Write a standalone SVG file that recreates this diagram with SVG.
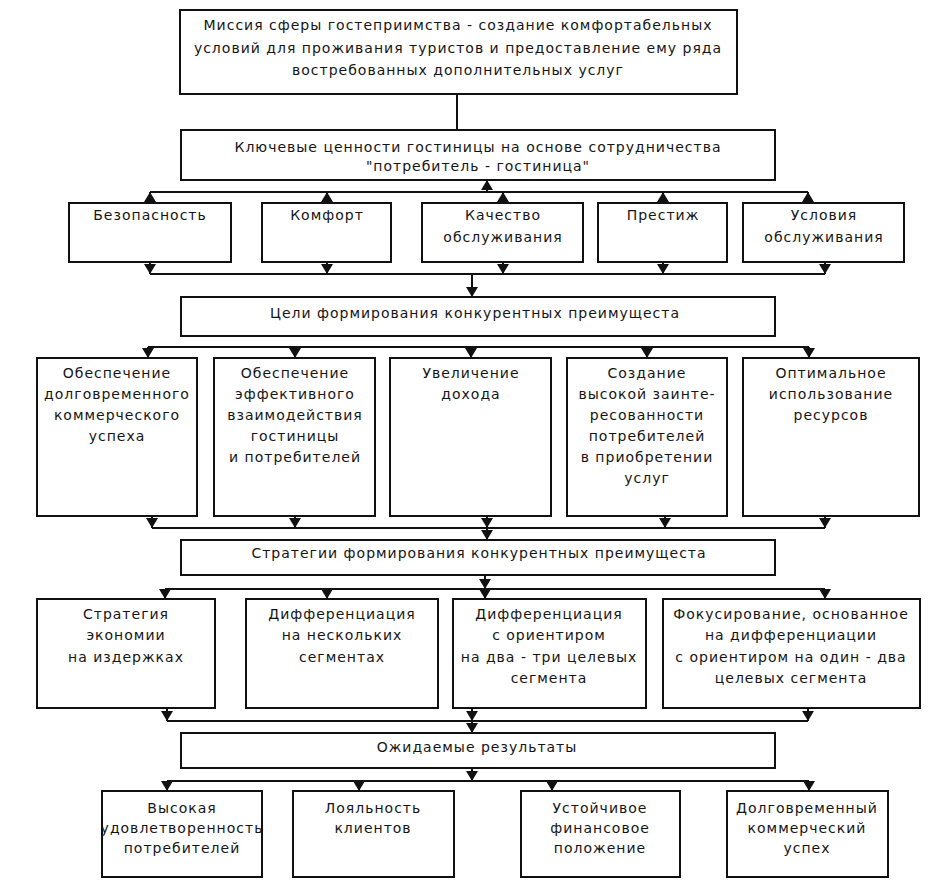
<svg xmlns="http://www.w3.org/2000/svg" width="950" height="886" viewBox="0 0 950 886">
<style>
.box{fill:#fff;stroke:#111;stroke-width:2}
.t{font-family:"DejaVu Sans","Liberation Sans",sans-serif;font-size:14px;letter-spacing:1px;fill:#151515;text-anchor:middle}
.c{fill:none;stroke:#111;stroke-width:2}
.a{fill:none;stroke:#111;stroke-width:2;marker-end:url(#ah)}
</style>
<defs>
<marker id="ah" viewBox="0 0 10 12" refX="10" refY="6" markerWidth="11" markerHeight="12" markerUnits="userSpaceOnUse" orient="auto">
<path d="M0,0 L10,6 L0,12 z" fill="#111"/>
</marker>
</defs>
<rect width="950" height="886" fill="#fff"/>
<g id="connectors">
<path class="c" d="M457,94 V130"/>
<path class="c" d="M150,192 H808"/>
<path class="a" d="M150,203 V192"/><path class="a" d="M327,203 V192"/><path class="a" d="M503,203 V192"/><path class="a" d="M663,203 V192"/><path class="a" d="M808,203 V192"/>
<path class="a" d="M487,192 V180"/>
<path class="c" d="M150,274 H825"/>
<path class="a" d="M150,262 V274"/><path class="a" d="M327,262 V274"/><path class="a" d="M503,262 V274"/><path class="a" d="M663,262 V274"/><path class="a" d="M825,262 V274"/>
<path class="a" d="M472,274 V297"/>
<path class="c" d="M148,347 H809"/>
<path class="a" d="M148,347 V358"/><path class="a" d="M295,347 V358"/><path class="a" d="M471,347 V358"/><path class="a" d="M647,347 V358"/><path class="a" d="M809,347 V358"/>
<path class="c" d="M152,528 H825"/>
<path class="a" d="M152,516 V528"/><path class="a" d="M295,516 V528"/><path class="a" d="M487,516 V528"/><path class="a" d="M665,516 V528"/><path class="a" d="M825,516 V528"/>
<path class="a" d="M487,528 V540"/>
<path class="c" d="M165,589 H825"/>
<path class="a" d="M485,575 V589"/>
<path class="a" d="M165,589 V599"/><path class="a" d="M327,589 V599"/><path class="a" d="M485,589 V599"/><path class="a" d="M825,589 V599"/>
<path class="c" d="M167,721 H808"/>
<path class="a" d="M167,708 V721"/><path class="a" d="M472,708 V721"/><path class="a" d="M808,708 V721"/>
<path class="a" d="M472,721 V733"/>
<path class="a" d="M472,768 V781"/>
<path class="c" d="M167,781 H809"/>
<path class="a" d="M167,781 V791"/><path class="a" d="M359,781 V791"/><path class="a" d="M552,781 V791"/><path class="a" d="M809,781 V791"/>
</g>
<g id="mission"><rect class="box" x="180" y="10" width="557" height="84"/>
<text class="t" x="458" y="30">Миссия сферы гостеприимства - создание комфортабельных</text>
<text class="t" x="458" y="53">условий для проживания туристов и предоставление ему ряда</text>
<text class="t" x="458" y="75">востребованных дополнительных услуг</text></g>
<g id="values"><rect class="box" x="181" y="130" width="594" height="50"/>
<text class="t" x="478" y="152">Ключевые ценности гостиницы на основе сотрудничества</text>
<text class="t" x="478" y="171">"потребитель - гостиница"</text></g>
<g id="v1"><rect class="box" x="69" y="203" width="162" height="59"/><text class="t" x="150" y="220">Безопасность</text></g>
<g id="v2"><rect class="box" x="262" y="203" width="129" height="59"/><text class="t" x="327" y="220">Комфорт</text></g>
<g id="v3"><rect class="box" x="422" y="203" width="161" height="59"/><text class="t" x="503" y="220">Качество</text><text class="t" x="503" y="242">обслуживания</text></g>
<g id="v4"><rect class="box" x="598" y="203" width="129" height="59"/><text class="t" x="663" y="220">Престиж</text></g>
<g id="v5"><rect class="box" x="743" y="203" width="161" height="59"/><text class="t" x="824" y="220">Условия</text><text class="t" x="824" y="242">обслуживания</text></g>
<g id="goals"><rect class="box" x="181" y="297" width="594" height="39"/><text class="t" x="475" y="318">Цели формирования конкурентных преимущеста</text></g>
<g id="g1"><rect class="box" x="37" y="358" width="160" height="158"/>
<text class="t" x="117" y="378">Обеспечение</text><text class="t" x="117" y="399">долговременного</text><text class="t" x="117" y="420">коммерческого</text><text class="t" x="117" y="441">успеха</text></g>
<g id="g2"><rect class="box" x="214" y="358" width="161" height="158"/>
<text class="t" x="295" y="378">Обеспечение</text><text class="t" x="295" y="399">эффективного</text><text class="t" x="295" y="420">взаимодействия</text><text class="t" x="295" y="441">гостиницы</text><text class="t" x="295" y="462">и потребителей</text></g>
<g id="g3"><rect class="box" x="390" y="358" width="161" height="158"/>
<text class="t" x="471" y="378">Увеличение</text><text class="t" x="471" y="399">дохода</text></g>
<g id="g4"><rect class="box" x="567" y="358" width="160" height="158"/>
<text class="t" x="647" y="378">Создание</text><text class="t" x="647" y="399">высокой заинте-</text><text class="t" x="647" y="420">ресованности</text><text class="t" x="647" y="441">потребителей</text><text class="t" x="647" y="462">в приобретении</text><text class="t" x="647" y="483">услуг</text></g>
<g id="g5"><rect class="box" x="743" y="358" width="176" height="158"/>
<text class="t" x="831" y="378">Оптимальное</text><text class="t" x="831" y="399">использование</text><text class="t" x="831" y="420">ресурсов</text></g>
<g id="strategies"><rect class="box" x="181" y="540" width="594" height="35"/><text class="t" x="479" y="558">Стратегии формирования конкурентных преимущеста</text></g>
<g id="s1"><rect class="box" x="37" y="599" width="178" height="109"/>
<text class="t" x="126" y="619">Стратегия</text><text class="t" x="126" y="640">экономии</text><text class="t" x="126" y="662">на издержках</text></g>
<g id="s2"><rect class="box" x="246" y="599" width="192" height="109"/>
<text class="t" x="342" y="619">Дифференциация</text><text class="t" x="342" y="640">на нескольких</text><text class="t" x="342" y="662">сегментах</text></g>
<g id="s3"><rect class="box" x="453" y="599" width="193" height="109"/>
<text class="t" x="549" y="619">Дифференциация</text><text class="t" x="549" y="640">с ориентиром</text><text class="t" x="549" y="662">на два - три целевых</text><text class="t" x="549" y="683">сегмента</text></g>
<g id="s4"><rect class="box" x="663" y="599" width="257" height="109"/>
<text class="t" x="791" y="619">Фокусирование, основанное</text><text class="t" x="791" y="640">на дифференциации</text><text class="t" x="791" y="662">с ориентиром на один - два</text><text class="t" x="791" y="683">целевых сегмента</text></g>
<g id="results"><rect class="box" x="181" y="733" width="594" height="35"/><text class="t" x="477" y="752">Ожидаемые результаты</text></g>
<g id="r1"><rect class="box" x="102" y="791" width="160" height="86"/>
<text class="t" x="182" y="813">Высокая</text><text class="t" x="182" y="833">удовлетворенность</text><text class="t" x="182" y="853">потребителей</text></g>
<g id="r2"><rect class="box" x="293" y="791" width="161" height="86"/>
<text class="t" x="373" y="813">Лояльность</text><text class="t" x="373" y="833">клиентов</text></g>
<g id="r3"><rect class="box" x="521" y="791" width="159" height="86"/>
<text class="t" x="600" y="813">Устойчивое</text><text class="t" x="600" y="833">финансовое</text><text class="t" x="600" y="853">положение</text></g>
<g id="r4"><rect class="box" x="727" y="791" width="161" height="86"/>
<text class="t" x="807" y="813">Долговременный</text><text class="t" x="807" y="833">коммерческий</text><text class="t" x="807" y="853">успех</text></g>
</svg>
